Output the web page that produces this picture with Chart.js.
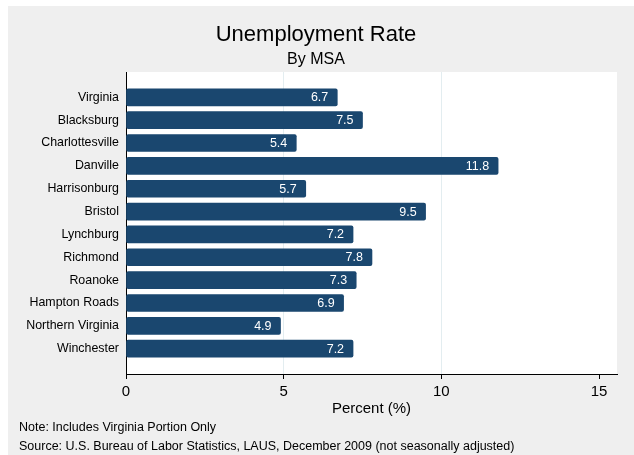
<!DOCTYPE html>
<html>
<head>
<meta charset="utf-8">
<script src="https://cdn.jsdelivr.net/npm/chart.js@4/dist/chart.umd.min.js"></script>
<style>
  body { margin: 0; background: #fff; }
  canvas { display: block; }
</style>
</head>
<body>
<canvas id="chart" width="634" height="455"></canvas>
<script>
const areas = ['Virginia', 'Blacksburg', 'Charlottesville', 'Danville', 'Harrisonburg', 'Bristol',
  'Lynchburg', 'Richmond', 'Roanoke', 'Hampton Roads', 'Northern Virginia', 'Winchester'];
const rates = [6.7, 7.5, 5.4, 11.8, 5.7, 9.5, 7.2, 7.8, 7.3, 6.9, 4.9, 7.2];
const xTicks = [0, 5, 10, 15];

const FONT = '"Liberation Sans", Arial, sans-serif';
const BG = '#efefef';
const BAR = '#1a476f';

// panel background + white plot region
const backdrop = {
  id: 'backdrop',
  beforeDraw(chart) {
    const { ctx, chartArea: a } = chart;
    ctx.save();
    ctx.fillStyle = '#fff';
    ctx.fillRect(0, 0, chart.width, chart.height);
    ctx.fillStyle = BG;
    ctx.fillRect(8, 6, chart.width - 8, chart.height - 6);
    ctx.fillStyle = '#fff';
    ctx.fillRect(a.left, a.top, a.right - a.left, a.bottom - a.top);
    ctx.restore();
  }
};

// value labels inside bar ends, titles and notes
const texts = {
  id: 'texts',
  afterDatasetsDraw(chart) {
    const { ctx } = chart;
    ctx.save();
    ctx.fillStyle = '#fff';
    ctx.font = '12.5px ' + FONT;
    ctx.textAlign = 'right';
    ctx.textBaseline = 'middle';
    chart.getDatasetMeta(0).data.forEach((bar, i) => {
      ctx.fillText(rates[i].toFixed(1), bar.x - 9, bar.y + 0.5);
    });
    ctx.restore();
  },
  afterDraw(chart) {
    const { ctx, chartArea: a } = chart;
    const cx = (a.left + a.right) / 2;
    ctx.save();
    ctx.fillStyle = '#000';
    ctx.textAlign = 'center';
    ctx.textBaseline = 'middle';
    ctx.font = '22px ' + FONT;
    ctx.fillText('Unemployment Rate', 316, 35);
    ctx.font = '16px ' + FONT;
    ctx.fillText('By MSA', 316, 60);
    ctx.font = '15px ' + FONT;
    ctx.fillText('Percent (%)', cx, 409);
    ctx.textAlign = 'left';
    ctx.font = '12.5px ' + FONT;
    ctx.fillText('Note: Includes Virginia Portion Only', 19, 428);
    ctx.fillText('Source: U.S. Bureau of Labor Statistics, LAUS, December 2009 (not seasonally adjusted)', 19, 447);
    ctx.restore();
  }
};

new Chart(document.getElementById('chart'), {
  type: 'bar',
  data: {
    datasets: [{
      data: rates.map((v, i) => ({ x: v, y: i })),
      backgroundColor: BAR,
      borderColor: BAR,
      borderWidth: 0,
      borderRadius: 2,
      borderSkipped: false,
      barThickness: 17
    }]
  },
  options: {
    indexAxis: 'y',
    responsive: false,
    animation: false,
    devicePixelRatio: 1,
    layout: { padding: { top: 72, right: 17, left: 0, bottom: 0 } },
    plugins: { legend: { display: false }, tooltip: { enabled: false } },
    scales: {
      x: {
        type: 'linear',
        min: 0,
        max: 15.57,
        afterBuildTicks: s => { s.ticks = xTicks.map(v => ({ value: v })); },
        afterFit: s => { s.height = 81; },
        grid: {
          color: c => (c.tick && (c.tick.value === 5 || c.tick.value === 10)) ? '#e3edf0' : 'rgba(0,0,0,0)',
          tickColor: '#000',
          tickLength: 5,
          drawTicks: true
        },
        border: { display: true, color: '#000', width: 1 },
        ticks: { color: '#000', font: { family: FONT, size: 15 }, padding: 4, maxRotation: 0 }
      },
      y: {
        type: 'linear',
        reverse: true,
        offset: false,
        min: -1.107,
        max: 12.107,
        afterBuildTicks: s => { s.ticks = areas.map((_, i) => ({ value: i })); },
        afterFit: s => { s.width = 126; },
        grid: { display: false, drawTicks: false },
        border: { display: true, color: '#000', width: 1 },
        ticks: {
          color: '#000',
          font: { family: FONT, size: 12.4 },
          padding: 7,
          callback: v => areas[v] ?? ''
        }
      }
    }
  },
  plugins: [backdrop, texts]
});
</script>
</body>
</html>
